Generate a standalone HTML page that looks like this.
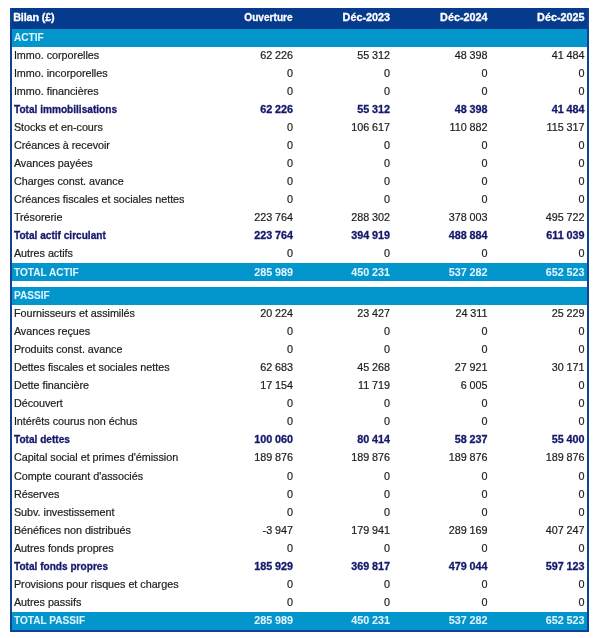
<!DOCTYPE html>
<html><head><meta charset="utf-8"><style>
html,body{margin:0;padding:0;background:#fff;width:600px;height:638px;overflow:hidden;}
body{position:relative;font-family:"Liberation Sans",sans-serif;}
.wrap{position:absolute;left:0;top:0;width:600px;height:638px;will-change:transform;}
.frame{position:absolute;left:10px;top:8px;width:579px;height:624px;background:#0f4292;}
.inner{position:absolute;left:12px;top:8px;width:575px;height:622px;background:#fff;}
.hd{position:absolute;left:12px;top:8px;width:575px;height:21px;background:#063a8c;}
.r{position:absolute;left:0;width:600px;font-size:10.8px;line-height:18.03px;white-space:nowrap;}
.r span{position:absolute;}
.r .l{left:13.9px;letter-spacing:-0.03px;}
.r i{display:inline-block;width:2.8px;}
.sec,.tt{background:#0396cc;color:#e0f4ff;font-weight:bold;}
.sec i,.tt i,.t i{width:2.8px;}
.sec .l,.tt .l,.t .l{letter-spacing:0px;transform:scaleX(0.935);transform-origin:0 50%;}
.sec,.tt{left:12px;width:575px;}
.sec .l,.tt .l{left:1.9000000000000004px;}
.sec .v,.tt .v{margin-right:-13px;}
.n{color:#1c1c1c;-webkit-text-stroke:0.2px #1c1c1c;}
.t{color:#14186a;font-weight:bold;-webkit-text-stroke:0.3px #14186a;}
.sec,.tt{-webkit-text-stroke:0.05px #e0f4ff;}
.hdt{-webkit-text-stroke:0.3px #fff;}
.hdt{position:absolute;top:6.5px;height:21px;line-height:21px;color:#fff;font-weight:bold;font-size:10.8px;white-space:nowrap;}
.hl{letter-spacing:0px;transform:scaleX(0.935);transform-origin:100% 50%;}
</style></head><body><div class="wrap">
<div class="frame"></div>
<div class="inner"></div>
<div class="hd"></div>
<div class="hdt" style="left:13.2px;letter-spacing:-0.15px">Bilan (£)</div>
<div class="hdt hl" style="right:307.00px">Ouverture</div>
<div class="hdt" style="right:210.00px">Déc-2023</div>
<div class="hdt" style="right:112.50px">Déc-2024</div>
<div class="hdt" style="right:15.50px">Déc-2025</div>
<div class="r sec" style="top:29px;height:18px"><span class="l" style="top:-1.00px">ACTIF</span></div><div class="r n" style="top:47px;height:18px"><span class="l" style="top:-1.00px">Immo. corporelles</span><span class="v" style="top:-1.00px;right:307.00px">62<i></i>226</span><span class="v" style="top:-1.00px;right:210.00px">55<i></i>312</span><span class="v" style="top:-1.00px;right:112.50px">48<i></i>398</span><span class="v" style="top:-1.00px;right:15.50px">41<i></i>484</span></div><div class="r n" style="top:65px;height:18px"><span class="l" style="top:-1.00px">Immo. incorporelles</span><span class="v" style="top:-1.00px;right:307.00px">0</span><span class="v" style="top:-1.00px;right:210.00px">0</span><span class="v" style="top:-1.00px;right:112.50px">0</span><span class="v" style="top:-1.00px;right:15.50px">0</span></div><div class="r n" style="top:83px;height:18px"><span class="l" style="top:-1.00px">Immo. financières</span><span class="v" style="top:-1.00px;right:307.00px">0</span><span class="v" style="top:-1.00px;right:210.00px">0</span><span class="v" style="top:-1.00px;right:112.50px">0</span><span class="v" style="top:-1.00px;right:15.50px">0</span></div><div class="r t" style="top:101px;height:18px"><span class="l" style="top:-1.00px">Total immobilisations</span><span class="v" style="top:-1.00px;right:307.00px">62<i></i>226</span><span class="v" style="top:-1.00px;right:210.00px">55<i></i>312</span><span class="v" style="top:-1.00px;right:112.50px">48<i></i>398</span><span class="v" style="top:-1.00px;right:15.50px">41<i></i>484</span></div><div class="r n" style="top:119px;height:18px"><span class="l" style="top:-1.00px">Stocks et en-cours</span><span class="v" style="top:-1.00px;right:307.00px">0</span><span class="v" style="top:-1.00px;right:210.00px">106<i></i>617</span><span class="v" style="top:-1.00px;right:112.50px">110<i></i>882</span><span class="v" style="top:-1.00px;right:15.50px">115<i></i>317</span></div><div class="r n" style="top:137px;height:18px"><span class="l" style="top:-1.00px">Créances à recevoir</span><span class="v" style="top:-1.00px;right:307.00px">0</span><span class="v" style="top:-1.00px;right:210.00px">0</span><span class="v" style="top:-1.00px;right:112.50px">0</span><span class="v" style="top:-1.00px;right:15.50px">0</span></div><div class="r n" style="top:155px;height:18px"><span class="l" style="top:-1.00px">Avances payées</span><span class="v" style="top:-1.00px;right:307.00px">0</span><span class="v" style="top:-1.00px;right:210.00px">0</span><span class="v" style="top:-1.00px;right:112.50px">0</span><span class="v" style="top:-1.00px;right:15.50px">0</span></div><div class="r n" style="top:173px;height:18px"><span class="l" style="top:-1.00px">Charges const. avance</span><span class="v" style="top:-1.00px;right:307.00px">0</span><span class="v" style="top:-1.00px;right:210.00px">0</span><span class="v" style="top:-1.00px;right:112.50px">0</span><span class="v" style="top:-1.00px;right:15.50px">0</span></div><div class="r n" style="top:191px;height:18px"><span class="l" style="top:-1.00px">Créances fiscales et sociales nettes</span><span class="v" style="top:-1.00px;right:307.00px">0</span><span class="v" style="top:-1.00px;right:210.00px">0</span><span class="v" style="top:-1.00px;right:112.50px">0</span><span class="v" style="top:-1.00px;right:15.50px">0</span></div><div class="r n" style="top:209px;height:18px"><span class="l" style="top:-1.00px">Trésorerie</span><span class="v" style="top:-1.00px;right:307.00px">223<i></i>764</span><span class="v" style="top:-1.00px;right:210.00px">288<i></i>302</span><span class="v" style="top:-1.00px;right:112.50px">378<i></i>003</span><span class="v" style="top:-1.00px;right:15.50px">495<i></i>722</span></div><div class="r t" style="top:227px;height:18px"><span class="l" style="top:-1.00px">Total actif circulant</span><span class="v" style="top:-1.00px;right:307.00px">223<i></i>764</span><span class="v" style="top:-1.00px;right:210.00px">394<i></i>919</span><span class="v" style="top:-1.00px;right:112.50px">488<i></i>884</span><span class="v" style="top:-1.00px;right:15.50px">611<i></i>039</span></div><div class="r n" style="top:245px;height:18px"><span class="l" style="top:-1.00px">Autres actifs</span><span class="v" style="top:-1.00px;right:307.00px">0</span><span class="v" style="top:-1.00px;right:210.00px">0</span><span class="v" style="top:-1.00px;right:112.50px">0</span><span class="v" style="top:-1.00px;right:15.50px">0</span></div><div class="r tt" style="top:263px;height:18px"><span class="l" style="top:0.00px">TOTAL ACTIF</span><span class="v" style="top:0.00px;right:307.00px">285<i></i>989</span><span class="v" style="top:0.00px;right:210.00px">450<i></i>231</span><span class="v" style="top:0.00px;right:112.50px">537<i></i>282</span><span class="v" style="top:0.00px;right:15.50px">652<i></i>523</span></div><div class="r sec" style="top:287px;height:18px"><span class="l" style="top:-1.00px">PASSIF</span></div><div class="r n" style="top:305px;height:18px"><span class="l" style="top:-1.00px">Fournisseurs et assimilés</span><span class="v" style="top:-1.00px;right:307.00px">20<i></i>224</span><span class="v" style="top:-1.00px;right:210.00px">23<i></i>427</span><span class="v" style="top:-1.00px;right:112.50px">24<i></i>311</span><span class="v" style="top:-1.00px;right:15.50px">25<i></i>229</span></div><div class="r n" style="top:323px;height:18px"><span class="l" style="top:-1.00px">Avances reçues</span><span class="v" style="top:-1.00px;right:307.00px">0</span><span class="v" style="top:-1.00px;right:210.00px">0</span><span class="v" style="top:-1.00px;right:112.50px">0</span><span class="v" style="top:-1.00px;right:15.50px">0</span></div><div class="r n" style="top:341px;height:18px"><span class="l" style="top:-1.00px">Produits const. avance</span><span class="v" style="top:-1.00px;right:307.00px">0</span><span class="v" style="top:-1.00px;right:210.00px">0</span><span class="v" style="top:-1.00px;right:112.50px">0</span><span class="v" style="top:-1.00px;right:15.50px">0</span></div><div class="r n" style="top:359px;height:18px"><span class="l" style="top:-1.00px">Dettes fiscales et sociales nettes</span><span class="v" style="top:-1.00px;right:307.00px">62<i></i>683</span><span class="v" style="top:-1.00px;right:210.00px">45<i></i>268</span><span class="v" style="top:-1.00px;right:112.50px">27<i></i>921</span><span class="v" style="top:-1.00px;right:15.50px">30<i></i>171</span></div><div class="r n" style="top:377px;height:18px"><span class="l" style="top:-1.00px">Dette financière</span><span class="v" style="top:-1.00px;right:307.00px">17<i></i>154</span><span class="v" style="top:-1.00px;right:210.00px">11<i></i>719</span><span class="v" style="top:-1.00px;right:112.50px">6<i></i>005</span><span class="v" style="top:-1.00px;right:15.50px">0</span></div><div class="r n" style="top:395px;height:18px"><span class="l" style="top:-1.00px">Découvert</span><span class="v" style="top:-1.00px;right:307.00px">0</span><span class="v" style="top:-1.00px;right:210.00px">0</span><span class="v" style="top:-1.00px;right:112.50px">0</span><span class="v" style="top:-1.00px;right:15.50px">0</span></div><div class="r n" style="top:413px;height:18px"><span class="l" style="top:-1.00px">Intérêts courus non échus</span><span class="v" style="top:-1.00px;right:307.00px">0</span><span class="v" style="top:-1.00px;right:210.00px">0</span><span class="v" style="top:-1.00px;right:112.50px">0</span><span class="v" style="top:-1.00px;right:15.50px">0</span></div><div class="r t" style="top:431px;height:18px"><span class="l" style="top:-1.00px">Total dettes</span><span class="v" style="top:-1.00px;right:307.00px">100<i></i>060</span><span class="v" style="top:-1.00px;right:210.00px">80<i></i>414</span><span class="v" style="top:-1.00px;right:112.50px">58<i></i>237</span><span class="v" style="top:-1.00px;right:15.50px">55<i></i>400</span></div><div class="r n" style="top:449px;height:18px"><span class="l" style="top:-1.00px">Capital social et primes d'émission</span><span class="v" style="top:-1.00px;right:307.00px">189<i></i>876</span><span class="v" style="top:-1.00px;right:210.00px">189<i></i>876</span><span class="v" style="top:-1.00px;right:112.50px">189<i></i>876</span><span class="v" style="top:-1.00px;right:15.50px">189<i></i>876</span></div><div class="r n" style="top:467px;height:18px"><span class="l" style="top:0.00px">Compte courant d'associés</span><span class="v" style="top:0.00px;right:307.00px">0</span><span class="v" style="top:0.00px;right:210.00px">0</span><span class="v" style="top:0.00px;right:112.50px">0</span><span class="v" style="top:0.00px;right:15.50px">0</span></div><div class="r n" style="top:485px;height:18px"><span class="l" style="top:0.00px">Réserves</span><span class="v" style="top:0.00px;right:307.00px">0</span><span class="v" style="top:0.00px;right:210.00px">0</span><span class="v" style="top:0.00px;right:112.50px">0</span><span class="v" style="top:0.00px;right:15.50px">0</span></div><div class="r n" style="top:503px;height:19px"><span class="l" style="top:0.00px">Subv. investissement</span><span class="v" style="top:0.00px;right:307.00px">0</span><span class="v" style="top:0.00px;right:210.00px">0</span><span class="v" style="top:0.00px;right:112.50px">0</span><span class="v" style="top:0.00px;right:15.50px">0</span></div><div class="r n" style="top:522px;height:18px"><span class="l" style="top:-1.00px">Bénéfices non distribués</span><span class="v" style="top:-1.00px;right:307.00px">-3<i></i>947</span><span class="v" style="top:-1.00px;right:210.00px">179<i></i>941</span><span class="v" style="top:-1.00px;right:112.50px">289<i></i>169</span><span class="v" style="top:-1.00px;right:15.50px">407<i></i>247</span></div><div class="r n" style="top:540px;height:18px"><span class="l" style="top:-1.00px">Autres fonds propres</span><span class="v" style="top:-1.00px;right:307.00px">0</span><span class="v" style="top:-1.00px;right:210.00px">0</span><span class="v" style="top:-1.00px;right:112.50px">0</span><span class="v" style="top:-1.00px;right:15.50px">0</span></div><div class="r t" style="top:558px;height:18px"><span class="l" style="top:-1.00px">Total fonds propres</span><span class="v" style="top:-1.00px;right:307.00px">185<i></i>929</span><span class="v" style="top:-1.00px;right:210.00px">369<i></i>817</span><span class="v" style="top:-1.00px;right:112.50px">479<i></i>044</span><span class="v" style="top:-1.00px;right:15.50px">597<i></i>123</span></div><div class="r n" style="top:576px;height:18px"><span class="l" style="top:-1.00px">Provisions pour risques et charges</span><span class="v" style="top:-1.00px;right:307.00px">0</span><span class="v" style="top:-1.00px;right:210.00px">0</span><span class="v" style="top:-1.00px;right:112.50px">0</span><span class="v" style="top:-1.00px;right:15.50px">0</span></div><div class="r n" style="top:594px;height:18px"><span class="l" style="top:-1.00px">Autres passifs</span><span class="v" style="top:-1.00px;right:307.00px">0</span><span class="v" style="top:-1.00px;right:210.00px">0</span><span class="v" style="top:-1.00px;right:112.50px">0</span><span class="v" style="top:-1.00px;right:15.50px">0</span></div><div class="r tt" style="top:612px;height:18px"><span class="l" style="top:-1.00px">TOTAL PASSIF</span><span class="v" style="top:-1.00px;right:307.00px">285<i></i>989</span><span class="v" style="top:-1.00px;right:210.00px">450<i></i>231</span><span class="v" style="top:-1.00px;right:112.50px">537<i></i>282</span><span class="v" style="top:-1.00px;right:15.50px">652<i></i>523</span></div>
</div></body></html>
